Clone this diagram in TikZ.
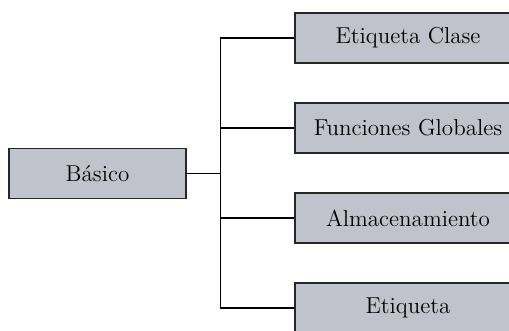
\documentclass[tikz,border=0pt]{standalone}
\usepackage{xcolor}
\usepackage{tikz}
\usetikzlibrary{positioning}
\definecolor{boxgray}{RGB}{192,195,203}

\begin{document}
\begin{tikzpicture}[x=0.5pt,y=-0.5pt,node distance = 45pt, semithick,
                    main node/.style={rectangle,draw=black!85,fill=boxgray,
                      minimum height=25pt,font=\fontsize{11.5}{13}\selectfont},
                    root node/.style={main node,minimum width=88.5pt},
                    leaf node/.style={main node,minimum width=113pt}]
  \clip (0,0) rectangle (509,331);

  \node[root node] (basico) at (97.5,173.5) {Básico};

  \node[leaf node] (clase) at (408,38) {Etiqueta Clase};
  \node[leaf node] (funciones) [below of=clase] {Funciones Globales};
  \node[leaf node] (almac) [below of=funciones] {Almacenamiento};
  \node[leaf node] (etiqueta) [below of=almac] {Etiqueta};

  \coordinate (split) at (220.5,173.5);

  \draw (basico) -- (split);
  \draw (split) |- (clase)
        (split) |- (funciones)
        (split) |- (almac)
        (split) |- (etiqueta);
\end{tikzpicture}
\end{document}
